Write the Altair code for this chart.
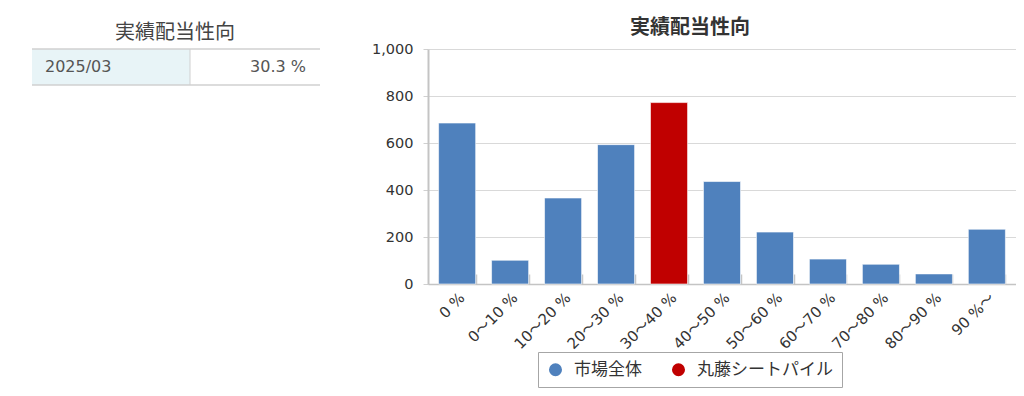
import altair as alt
import pandas as pd

# ---- data ----
categories = ["0 %", "0～10 %", "10～20 %", "20～30 %", "30～40 %", "40～50 %",
              "50～60 %", "60～70 %", "70～80 %", "80～90 %", "90 %～"]
counts = [685, 101, 366, 593, 772, 436, 221, 106, 84, 43, 233]
series = ["市場全体", "市場全体", "市場全体", "市場全体", "丸藤シートパイル", "市場全体",
          "市場全体", "市場全体", "市場全体", "市場全体", "市場全体"]
series_names = ["市場全体", "丸藤シートパイル"]
series_colors = ["#4f81bd", "#c00000"]
y_ticks = [0, 200, 400, 600, 800, 1000]
chart_title = "実績配当性向"
table_period = ["2025/03"]
table_value = [30.3]

FONT = "DejaVu Sans, Noto Sans CJK JP"
CJK = "Noto Sans CJK JP"

df = pd.DataFrame({"cat": categories, "count": counts, "series": series})
tdf = pd.DataFrame({"period": table_period, "value": table_value})

x_scale = alt.Scale(paddingInner=0.3, paddingOuter=0.2)

bars = alt.Chart(df).mark_bar(stroke="#ffffff", strokeOpacity=0.6, strokeWidth=1).encode(
    x=alt.X("cat:N", sort=categories, scale=x_scale,
            axis=alt.Axis(orient="bottom", title=None, labelAngle=-45, labelFontSize=15,
                          labelFont=FONT, labelColor="#333333", ticks=False,
                          domainColor="#c4c4c4", domainWidth=1.5, labelPadding=6,
                          grid=False)),
    y=alt.Y("count:Q", scale=alt.Scale(domain=[0, 1000]),
            axis=alt.Axis(title=None, values=y_ticks, format=",d", labelFontSize=14.5,
                          labelFont=FONT, labelColor="#333333", tickSize=5,
                          tickColor="#d0d0d0", gridColor="#d9d9d9", domainColor="#c4c4c4",
                          domainWidth=2, labelPadding=10)),
    color=alt.Color("series:N", scale=alt.Scale(domain=series_names, range=series_colors),
                    legend=alt.Legend(title=None, orient="none", legendX=110, legendY=303,
                                      direction="horizontal", symbolType="circle",
                                      symbolSize=170, symbolStrokeWidth=0, labelFontSize=17,
                                      labelFont=CJK, labelColor="#333333", padding=9,
                                      strokeColor="#a6a6a6", fillColor="#ffffff",
                                      columnPadding=28, labelOffset=10, labelLimit=300)),
)

tick_layer = alt.Chart(df).mark_bar(opacity=0).encode(
    x=alt.X("cat:N", sort=categories, scale=x_scale,
            axis=alt.Axis(orient="top", offset=-235, labels=False, domain=False, ticks=True,
                          tickSize=10, tickBand="extent", tickColor="#c4c4c4", tickWidth=1.5,
                          title=None, grid=False)),
)

base = alt.Chart(tdf)
cell_left = base.mark_rect(color="#e8f4f7").encode(
    x=alt.value(-396), x2=alt.value(-238), y=alt.value(0), y2=alt.value(36))
top_line = base.mark_rule(color="#d0d0d0", strokeWidth=1.5).encode(
    x=alt.value(-396), x2=alt.value(-108), y=alt.value(0))
bottom_line = base.mark_rule(color="#d0d0d0", strokeWidth=1.5).encode(
    x=alt.value(-396), x2=alt.value(-108), y=alt.value(36))
v_line = base.mark_rule(color="#d0d0d0", strokeWidth=1).encode(
    x=alt.value(-238), y=alt.value(0), y2=alt.value(36))
period_text = base.mark_text(align="left", baseline="middle", fontSize=16, font=FONT,
                             color="#555555").encode(
    x=alt.value(-383), y=alt.value(18), text="period:N")
value_text = base.transform_calculate(
    label="format(datum.value, '.1f') + ' %'"
).mark_text(align="right", baseline="middle", fontSize=16, font=FONT, color="#555555").encode(
    x=alt.value(-122), y=alt.value(18), text="label:N")
left_title = base.mark_text(align="center", baseline="middle", fontSize=20, font=CJK,
                            color="#444444").encode(
    x=alt.value(-253), y=alt.value(-16), text=alt.value(chart_title))
main_title = base.mark_text(align="center", baseline="middle", fontSize=20, font=CJK,
                            fontWeight="bold", color="#333333").encode(
    x=alt.value(262), y=alt.value(-21), text=alt.value(chart_title))

chart = alt.layer(
    cell_left, top_line, bottom_line, v_line, period_text, value_text, left_title, main_title,
    bars, tick_layer
).resolve_axis(x="independent").properties(
    width=588, height=235,
    autosize=alt.AutoSizeParams(type="none"),
    padding={"left": 420, "top": 41, "right": 0, "bottom": 104},
    background="#ffffff",
).configure_view(stroke=None)

chart.save("out.html", embed_options={"renderer": "svg", "actions": False})
